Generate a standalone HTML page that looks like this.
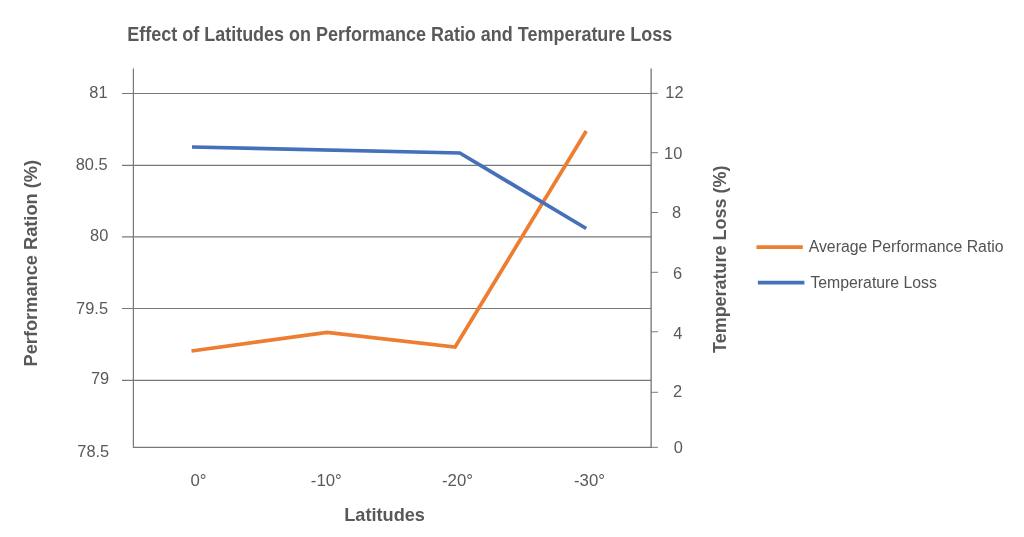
<!DOCTYPE html>
<html lang="en">
<head>
<meta charset="utf-8">
<title>Effect of Latitudes on Performance Ratio and Temperature Loss</title>
<style>
  html, body { margin: 0; padding: 0; background: #ffffff; }
  body { width: 1024px; height: 537px; overflow: hidden; }
  svg { display: block; will-change: transform; }
  text { font-family: "Liberation Sans", sans-serif; fill: #58595b; }
  .b { font-weight: bold; }
  .tick { font-size: 16.4px; fill: #525355; }
  .leg { font-size: 16px; fill: #525355; }
</style>
</head>
<body>
<svg width="1024" height="537" viewBox="0 0 1024 537">
  <rect x="0" y="0" width="1024" height="537" fill="#ffffff"/>

  <!-- title -->
  <text class="b" x="127.3" y="41" font-size="19.3" textLength="545" lengthAdjust="spacingAndGlyphs">Effect of Latitudes on Performance Ratio and Temperature Loss</text>

  <!-- gridlines (with left ticks) -->
  <g stroke="#77787b" stroke-width="1.2" fill="none">
    <line x1="122" y1="93.5" x2="651" y2="93.5"/>
    <line x1="122" y1="165.4" x2="651" y2="165.4"/>
    <line x1="122" y1="236.9" x2="651" y2="236.9"/>
    <line x1="122" y1="308.5" x2="651" y2="308.5"/>
    <line x1="122" y1="380.4" x2="651" y2="380.4"/>
    <!-- left axis + bottom axis -->
    <polyline points="133.4,68.5 133.4,447.35 651,447.35"/>
  </g>

  <!-- right axis -->
  <g stroke="#6d6e71" fill="none">
    <line x1="651.12" y1="68.5" x2="651.12" y2="447.95" stroke-width="1.25"/>
    <g stroke-width="0.9">
      <line x1="651" y1="93.35" x2="658" y2="93.35"/>
      <line x1="651" y1="152.7" x2="658" y2="152.7"/>
      <line x1="651" y1="212.5" x2="658" y2="212.5"/>
      <line x1="651" y1="272.3" x2="658" y2="272.3"/>
      <line x1="651" y1="331.75" x2="658" y2="331.75"/>
      <line x1="651" y1="392.3" x2="658" y2="392.3"/>
      <line x1="651" y1="447.35" x2="658" y2="447.35"/>
    </g>
  </g>

  <!-- data lines -->
  <polyline points="191.5,351 327,332.3 455.1,347 586.25,131" fill="none" stroke="#ed7d31" stroke-width="3.7" stroke-linejoin="miter"/>
  <polyline points="192,147 459.8,153 586.25,228.5" fill="none" stroke="#4570ba" stroke-width="3.7" stroke-linejoin="miter"/>

  <!-- left tick labels -->
  <g class="tick" text-anchor="end">
    <text x="107.6" y="97.5">81</text>
    <text x="107.6" y="170.4">80.5</text>
    <text x="108.3" y="241">80</text>
    <text x="108" y="314.4">79.5</text>
    <text x="109.2" y="383.75">79</text>
    <text x="109.2" y="457.2">78.5</text>
  </g>

  <!-- right tick labels -->
  <g class="tick" text-anchor="end">
    <text x="683.6" y="97.5">12</text>
    <text x="682.3" y="159">10</text>
    <text x="681.2" y="217.75">8</text>
    <text x="682.2" y="279.4">6</text>
    <text x="682.3" y="338.75">4</text>
    <text x="682.1" y="397.1">2</text>
    <text x="682.8" y="452.5">0</text>
  </g>

  <!-- x tick labels -->
  <g class="tick" style="font-size:16.8px">
    <text x="190.4" y="485.75">0°</text>
    <text x="310.8" y="485.75">-10°</text>
    <text x="442" y="485.75">-20°</text>
    <text x="574" y="485.75">-30°</text>
  </g>

  <!-- axis titles -->
  <text class="b" x="344.2" y="521" font-size="18.5" textLength="80.8" lengthAdjust="spacingAndGlyphs">Latitudes</text>
  <text class="b" transform="translate(37.1 366.5) rotate(-90)" font-size="18.5" textLength="206.6" lengthAdjust="spacingAndGlyphs">Performance Ration (%)</text>
  <text class="b" transform="translate(725.8 353) rotate(-90)" font-size="18.5" textLength="187.5" lengthAdjust="spacingAndGlyphs">Temperature Loss (%)</text>

  <!-- legend -->
  <line x1="756.5" y1="247.1" x2="802.75" y2="247.1" stroke="#ed7d31" stroke-width="3.6"/>
  <line x1="757.9" y1="282.7" x2="804.4" y2="282.7" stroke="#4570ba" stroke-width="3.7"/>
  <text class="leg" x="808.7" y="252.25" textLength="194.9" lengthAdjust="spacingAndGlyphs">Average Performance Ratio</text>
  <text class="leg" x="810.4" y="287.75" textLength="126.5" lengthAdjust="spacingAndGlyphs">Temperature Loss</text>
</svg>
</body>
</html>
